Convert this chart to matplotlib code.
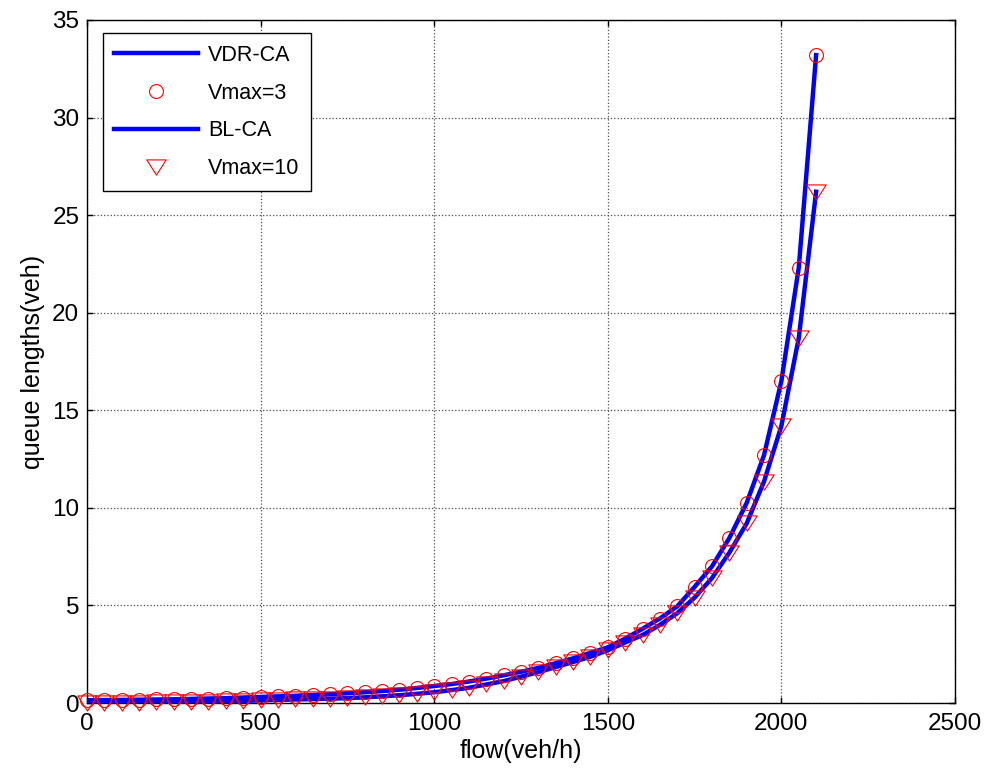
import matplotlib
matplotlib.use("Agg")
import matplotlib.pyplot as plt
from matplotlib.path import Path
import numpy as np

flow = list(range(0, 2101, 50))
vdr_vmax3 = [0.14, 0.15, 0.16, 0.17, 0.18, 0.19, 0.21, 0.23, 0.25, 0.28,
             0.31, 0.34, 0.37, 0.41, 0.45, 0.50, 0.55, 0.61, 0.68, 0.77,
             0.87, 0.97, 1.10, 1.25, 1.42, 1.60, 1.80, 2.04, 2.29, 2.57,
             2.85, 3.30, 3.80, 4.33, 4.95, 5.95, 7.00, 8.45, 10.25, 12.7,
             16.5, 22.3, 33.2]
bl_vmax10 = [0.00, 0.00, 0.01, 0.02, 0.03, 0.04, 0.05, 0.07, 0.09, 0.11,
             0.14, 0.16, 0.18, 0.20, 0.22, 0.25, 0.29, 0.34, 0.40, 0.47,
             0.55, 0.66, 0.78, 0.95, 1.12, 1.35, 1.58, 1.84, 2.10, 2.37,
             2.70, 3.10, 3.48, 4.00, 4.60, 5.40, 6.40, 7.70, 9.20, 11.35,
             14.2, 18.7, 26.2]
labels = ["VDR-CA", "Vmax=3", "BL-CA", "Vmax=10"]
xticks = [0, 500, 1000, 1500, 2000, 2500]
yticks = [0, 5, 10, 15, 20, 25, 30, 35]

plt.rcParams['font.family'] = ['Liberation Sans', 'DejaVu Sans']

fig = plt.figure(figsize=(9.88, 7.78), dpi=100)
ax = fig.add_axes([0.088, 0.0964, 0.8786, 0.8779])

tri = Path([(-1, 0.78), (1, 0.78), (0, -0.78), (-1, 0.78)],
           [Path.MOVETO, Path.LINETO, Path.LINETO, Path.CLOSEPOLY])

ax.plot(flow, vdr_vmax3, color='#0000ff', lw=3.2, label=labels[0], zorder=3)
ax.plot(flow, vdr_vmax3, ls='none', marker='o', ms=10, mfc='none',
        mec='#ff0000', mew=0.8, label=labels[1], zorder=4, clip_on=False)
ax.plot(flow, bl_vmax10, color='#0000ff', lw=3.2, label=labels[2], zorder=3)
ax.plot(flow, bl_vmax10, ls='none', marker=tri, ms=14, mfc='none',
        mec='#ff0000', mew=0.8, label=labels[3], zorder=4, clip_on=False)

ax.set_xlim(0, 2500)
ax.set_ylim(0, 35)
ax.set_xticks(xticks)
ax.set_yticks(yticks)
ax.tick_params(direction='in', length=4, width=1, top=True, right=True,
               labelsize=17.5)
ax.tick_params(axis='x', pad=7)
ax.tick_params(axis='y', pad=5.5)
ax.grid(True, color='0.3', ls=':', lw=0.9)
for s in ax.spines.values():
    s.set_linewidth(1.0)
    s.set_color('k')

ax.set_xlabel("flow(veh/h)", fontsize=18, labelpad=3)
ax.set_ylabel("queue lengths(veh)", fontsize=18, labelpad=5)

leg = ax.legend(loc='upper left', bbox_to_anchor=(0.018, 0.981),
                fontsize=15.5, handlelength=3.9, handletextpad=0.45,
                labelspacing=0.78, borderpad=0.55, fancybox=False,
                framealpha=1, edgecolor='k', borderaxespad=0)
leg.get_frame().set_linewidth(1.0)

fig.savefig("out.png", dpi=100)
